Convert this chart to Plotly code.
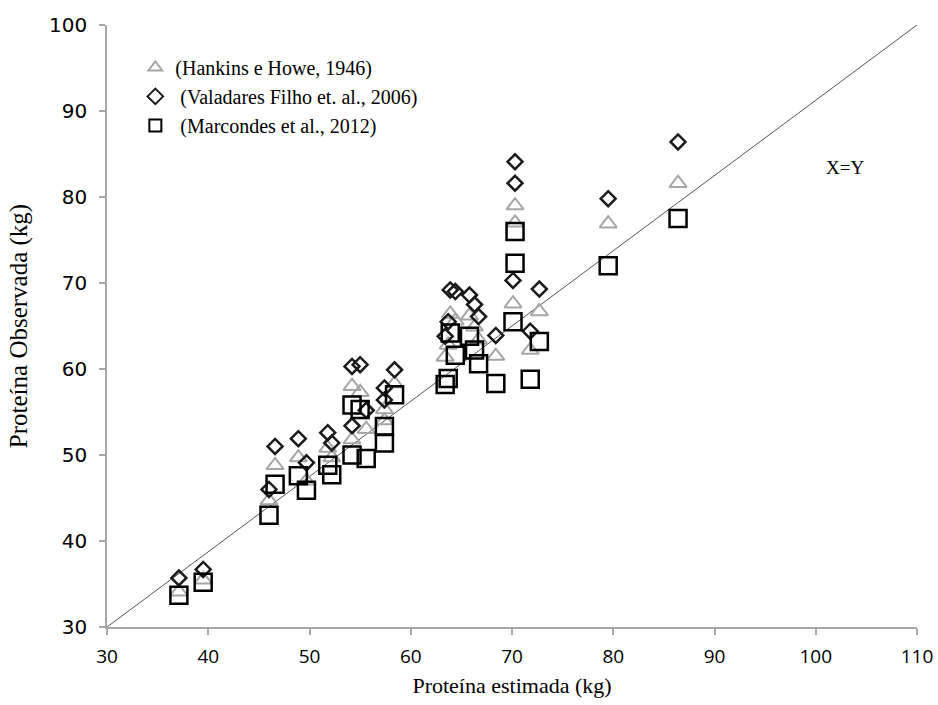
import plotly.graph_objects as go

# Estimated protein (kg), shared by the three equations
estimated = [37.1, 39.5, 46.0, 46.6, 48.9, 49.7, 51.8, 52.2, 54.2, 55.0,
             54.2, 55.6, 58.4, 57.4, 57.4, 63.4, 63.7, 63.9, 64.4, 65.8,
             66.3, 66.7, 68.4, 70.1, 70.3, 70.3, 71.8, 72.7, 79.5, 86.4]

# Observed protein (kg) by each equation
hankins = [34.1, 35.5, 44.7, 48.8, 49.7, 47.0, 50.8, 49.7, 58.0, 57.3,
           51.8, 53.0, 58.3, 55.3, 54.0, 61.4, 62.8, 66.4, 65.6, 66.2,
           64.9, 63.4, 61.5, 67.6, 79.0, 77.0, 62.2, 66.7, 76.9, 81.6]
valadares = [35.7, 36.7, 46.0, 51.0, 51.9, 49.1, 52.6, 51.4, 60.3, 60.5,
             53.4, 55.2, 59.9, 57.8, 56.4, 63.8, 65.5, 69.2, 69.0, 68.6,
             67.5, 66.1, 63.9, 70.3, 84.1, 81.6, 64.4, 69.3, 79.8, 86.4]
marcondes = [33.7, 35.2, 43.0, 46.6, 47.6, 45.9, 48.8, 47.7, 55.8, 55.3,
             50.0, 49.6, 57.0, 53.3, 51.4, 58.2, 58.9, 64.2, 61.6, 63.8,
             62.2, 60.6, 58.3, 65.5, 76.0, 72.3, 58.8, 63.2, 72.0, 77.5]

# Diagonal reference line
ref_x = [30, 110]
ref_y = [30, 100]

serif = "Liberation Serif"

fig = go.Figure()

fig.add_trace(go.Scatter(
    x=ref_x, y=ref_y, mode="lines", showlegend=False,
    line=dict(color="#555555", width=1), hoverinfo="skip"))

fig.add_trace(go.Scatter(
    x=estimated, y=hankins, mode="markers",
    name="(Hankins e Howe, 1946)",
    marker=dict(symbol="triangle-up-open", size=15, color="#a6a6a6",
                line=dict(width=2, color="#a6a6a6"))))

fig.add_trace(go.Scatter(
    x=estimated, y=valadares, mode="markers",
    name=" (Valadares Filho et. al., 2006)",
    marker=dict(symbol="diamond-open", size=11.5, color="#1a1a1a",
                line=dict(width=2.5, color="#1a1a1a"))))

fig.add_trace(go.Scatter(
    x=estimated, y=marcondes, mode="markers",
    name=" (Marcondes et al., 2012)",
    marker=dict(symbol="square-open", size=17, color="#000000",
                line=dict(width=2.5, color="#000000"))))

fig.add_annotation(
    x=102.9, y=83.4, text="X=Y", showarrow=False,
    font=dict(family=serif, size=19, color="#000000"))

axis_common = dict(
    showgrid=False, zeroline=False, showline=True, automargin=False,
    linecolor="#a6a6a6", linewidth=1.5,
    ticks="outside", ticklen=6, tickcolor="#a6a6a6", tickwidth=1.5,
    dtick=10)

fig.update_xaxes(range=[30, 110], tick0=30, ticklabelstandoff=5,
                 tickfont=dict(family="Open Sans", size=19, color="#000000"),
                 title=dict(text="Proteína estimada (kg)", standoff=10,
                            font=dict(family=serif, size=22, color="#000000")),
                 **axis_common)
fig.update_yaxes(range=[30, 100], tick0=30, ticklabelstandoff=8,
                 tickfont=dict(family="DejaVu Sans", size=20, color="#000000"),
                 title=dict(text="Proteína Observada (kg)", standoff=14,
                            font=dict(family=serif, size=25, color="#000000")),
                 **axis_common)

fig.update_layout(
    width=938, height=705,
    margin=dict(l=107, r=21, t=25, b=78),
    plot_bgcolor="white", paper_bgcolor="white",
    legend=dict(x=0.035, y=0.962, xanchor="left", yanchor="top",
                bgcolor="rgba(0,0,0,0)", itemsizing="constant",
                font=dict(family=serif, size=20, color="#000000"),
                tracegroupgap=0, itemwidth=30),
)

fig.write_html("out.html")
